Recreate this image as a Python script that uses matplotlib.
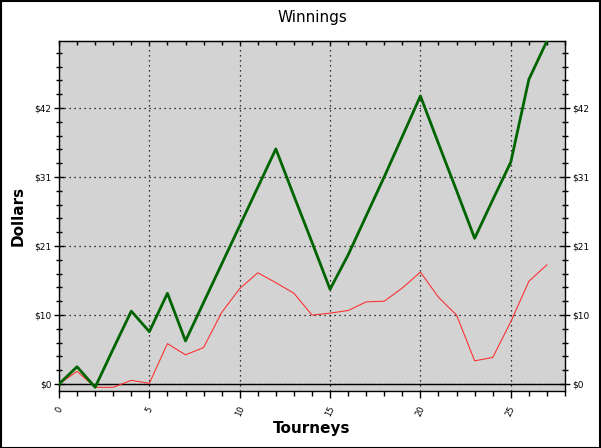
import numpy as np
import matplotlib
matplotlib.use("Agg")
import matplotlib.pyplot as plt
from matplotlib.ticker import FixedLocator, MultipleLocator, FuncFormatter, NullFormatter
from matplotlib.patches import Rectangle

# Winnings per tourney (dollars)
tourneys = list(range(28))
total_winnings = [0.0, 2.6, -0.5, 5.3, 11.0, 7.9, 13.7, 6.5, 12.3, 18.1,
                  23.9, 29.7, 35.5, 28.4, 21.4, 14.3, 19.5, 25.4, 31.3, 37.4,
                  43.5, 36.3, 29.2, 22.0, 27.8, 33.5, 46.0, 51.8]
other_winnings = [0.0, 1.9, -0.5, -0.5, 0.55, 0.1, 6.1, 4.4, 5.5, 10.8,
                  14.4, 16.8, 15.3, 13.7, 10.4, 10.7, 11.1, 12.4, 12.5, 14.5,
                  16.9, 13.1, 10.4, 3.5, 4.0, 9.4, 15.5, 18.0]

Y_STEP = 10.42  # axis step, labels rounded to whole dollars

fig = plt.figure(figsize=(6.01, 4.48), dpi=100)
ax = fig.add_axes([59 / 601, 57 / 448, 506 / 601, 350 / 448])
ax.set_facecolor("#d3d3d3")

ax.plot(tourneys, other_winnings, color="#ff2a2a", lw=0.75, zorder=3)
ax.plot(tourneys, total_winnings, color="#006400", lw=2.0, zorder=4)
ax.axhline(0, color="black", lw=1.0, zorder=2)

ax.set_xlim(0, 28)
ax.set_ylim(-1.06, 51.8)

ax.xaxis.set_major_locator(FixedLocator([0, 5, 10, 15, 20, 25]))
ax.xaxis.set_minor_locator(MultipleLocator(1))
ax.yaxis.set_major_locator(FixedLocator([Y_STEP * k for k in range(5)]))
ax.yaxis.set_minor_locator(MultipleLocator(Y_STEP / 5))
ax.yaxis.set_major_formatter(FuncFormatter(lambda v, p: f"${v:.0f}"))

ax.grid(True, which="major", color="black", linestyle=(0, (1, 3)), lw=0.9)

ax.tick_params(axis="x", which="both", direction="out",
               labelsize=6, labelrotation=65, pad=5)
ax.tick_params(axis="x", which="major", length=5, width=1)
ax.tick_params(axis="x", which="minor", length=3.5, width=1)
ax.tick_params(axis="y", which="both", direction="inout", right=True,
               labelright=True, labelsize=6.5, width=1)
ax.tick_params(axis="y", which="major", length=7, pad=2)
ax.tick_params(axis="y", which="minor", length=5)
for lab in ax.get_xticklabels():
    lab.set_ha("center")

# top edge: small inward ticks at each tourney
top = ax.secondary_xaxis("top")
top.xaxis.set_major_locator(MultipleLocator(1))
top.xaxis.set_major_formatter(NullFormatter())
top.tick_params(direction="in", length=3, width=1)

for s in ax.spines.values():
    s.set_linewidth(1.0)

ax.set_title("Winnings", fontsize=11, pad=14)
ax.set_xlabel("Tourneys", fontsize=11, fontweight="bold")
ax.set_ylabel("Dollars", fontsize=11, fontweight="bold")
ax.xaxis.set_label_coords(0.5, -0.085)
ax.yaxis.set_label_coords(-0.066, 0.5)

fig.patches.append(Rectangle((0.001, 0.001), 0.997, 0.996, transform=fig.transFigure,
                             fill=False, edgecolor="black", lw=1.5))

fig.savefig("out.png", dpi=100)
